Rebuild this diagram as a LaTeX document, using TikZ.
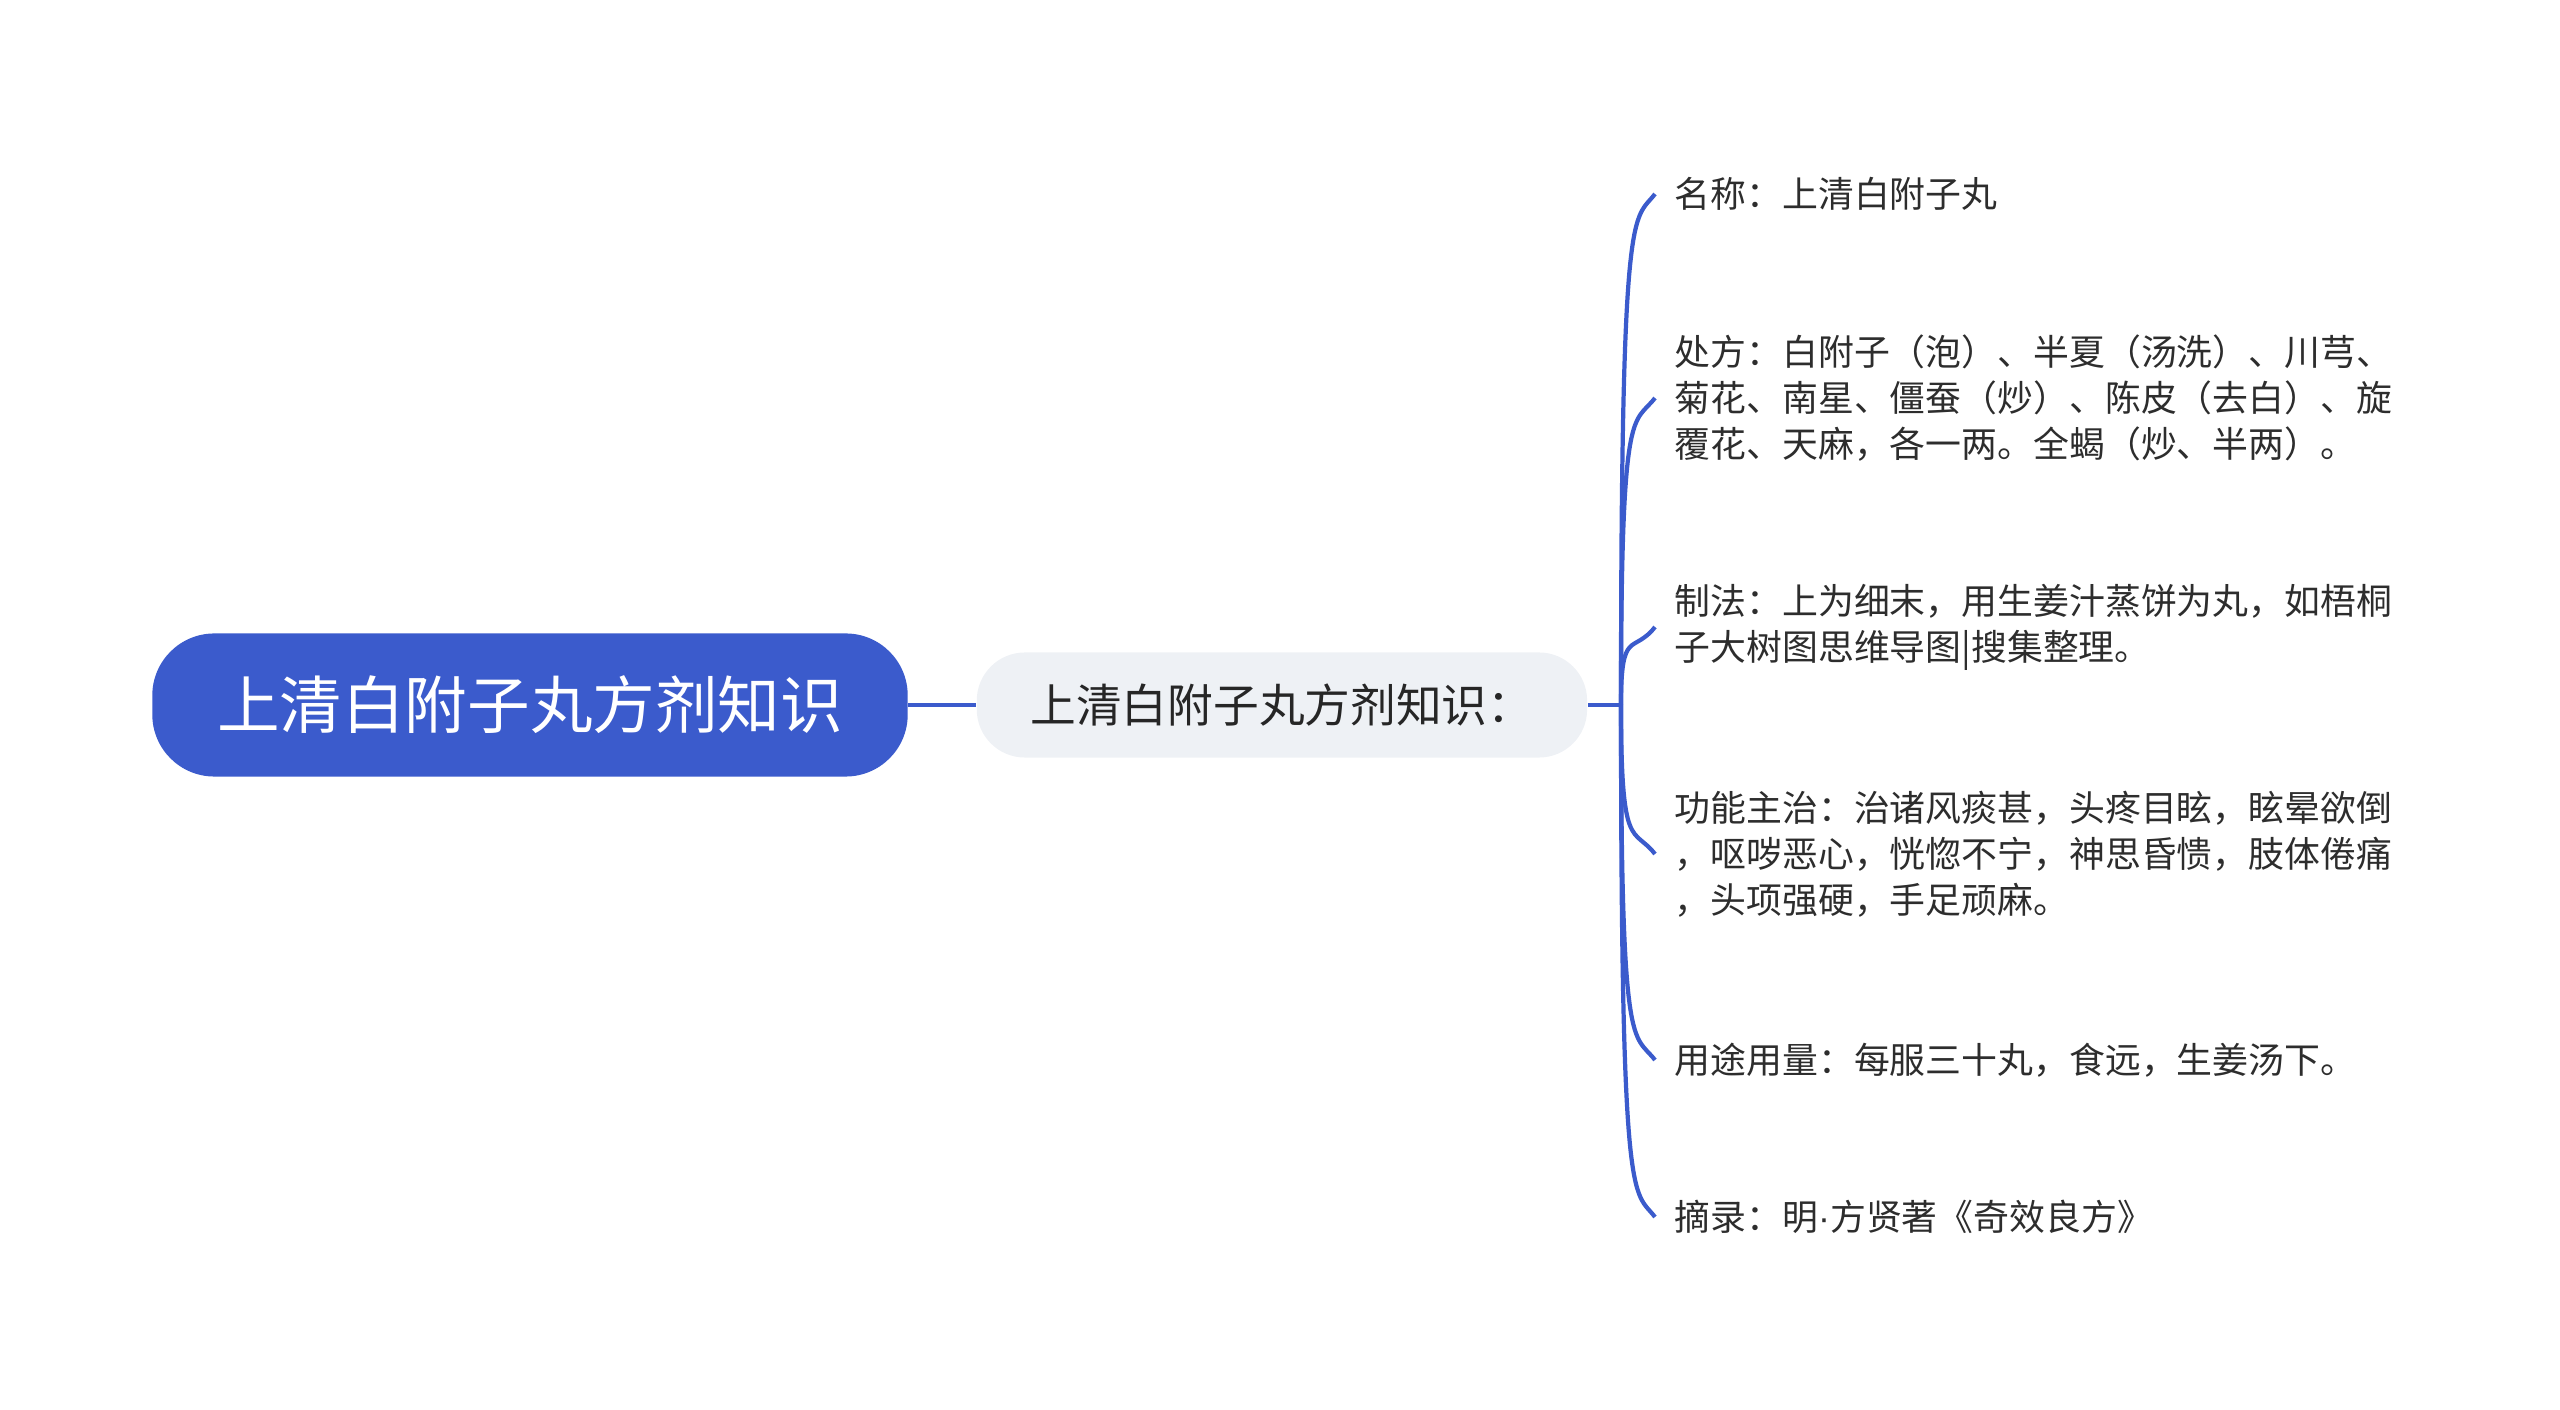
\documentclass[tikz,border=0pt]{standalone}
\usepackage{fontspec}
\newfontfamily\cjk{Noto Sans CJK SC}
\newfontfamily\latin{Liberation Sans}
\usepackage{tikz}
\usetikzlibrary{%
  positioning
 ,calc
}
\definecolor{mapblue}{RGB}{59,91,204}
\definecolor{topicgray}{RGB}{238,241,245}
\definecolor{leaftext}{RGB}{45,45,45}
\tikzstyle{map}=[x=0.01cm,y=-0.01cm,node distance=7.515cm,on grid]
\tikzstyle{root}=[rectangle,rounded corners=0.62cm,fill=mapblue,text=white,minimum width=7.55cm,minimum height=1.43cm,font=\cjk\fontsize{17.8}{22}\selectfont]
\tikzstyle{topic}=[rectangle,rounded corners=0.48cm,fill=topicgray,text=black!85,minimum width=6.1cm,minimum height=1.05cm,font=\cjk\fontsize{13}{16}\selectfont]
\tikzstyle{leaf}=[anchor=west,align=left,inner sep=0.19cm,text=leaftext,font=\cjk\fontsize{10.2}{13.1}\selectfont]
\tikzstyle{twig}=[draw=mapblue,line width=1.2pt]

\begin{document}
\begin{tikzpicture}[map]
  \useasboundingbox (0,0) rectangle (2560,1410);
  \node[root]          (root) at (530,705)  {上清白附子丸方剂知识};
  \node[topic]         (topic) [right=of root] {上清白附子丸方剂知识：};
  \coordinate          (hub) at (1621,705);
%
  \node[leaf] (name)   at (1655,194)  {名称：上清白附子丸};
  \node[leaf] (recipe) at (1655,398)  {处方：白附子（泡）、半夏（汤洗）、川芎、\\菊花、南星、僵蚕（炒）、陈皮（去白）、旋\\覆花、天麻，各一两。全蝎（炒、半两）。};
  \node[leaf] (method) at (1655,627)  {制法：上为细末，用生姜汁蒸饼为丸，如梧桐\\子大树图思维导图|搜集整理。};
  \node[leaf] (usage)  at (1655,854)  {功能主治：治诸风痰甚，头疼目眩，眩晕欲倒\\，呕哕恶心，恍惚不宁，神思昏愦，肢体倦痛\\，头项强硬，手足顽麻。};
  \node[leaf] (dose)   at (1655,1060) {用途用量：每服三十丸，食远，生姜汤下。};
  \node[leaf] (source) at (1655,1217) {摘录：明{\latin ·}方贤著《奇效良方》};
%
  \draw[twig]
  (root.east)  -- (topic.west)
  (topic.east) -- (hub);
  % branches up
  \foreach \leafname in {name,recipe,method}
    \draw[twig] (hub) .. controls (hub |- \leafname.west) and ($(\leafname.west)+(-22,28)$) .. (\leafname.west);
  % branches down
  \foreach \leafname in {usage,dose,source}
    \draw[twig] (hub) .. controls (hub |- \leafname.west) and ($(\leafname.west)+(-22,-28)$) .. (\leafname.west);

\end{tikzpicture}
\end{document}
